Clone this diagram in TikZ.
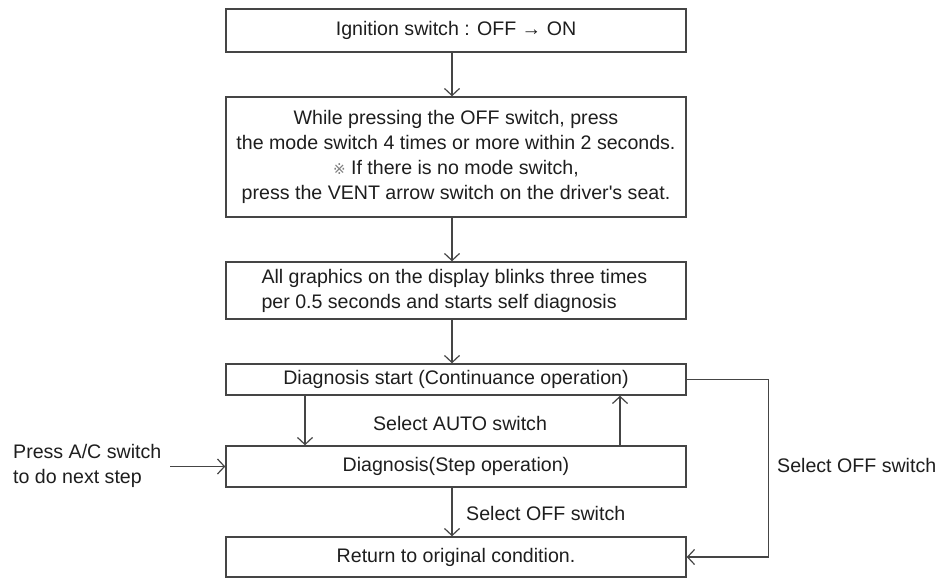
\documentclass[tikz,border=0pt]{standalone}
\usepackage{fontspec}
\newfontfamily\mainf{Liberation Sans}
\newfontfamily\symfont{DejaVu Sans}
\usetikzlibrary{arrows.meta}
\definecolor{linec}{HTML}{454545}
\definecolor{textc}{HTML}{1E1E1E}
\begin{document}
\begin{tikzpicture}[x=1pt,y=-1pt,
  font=\mainf\fontsize{19.6}{25}\selectfont,
  box/.style={draw=linec, line width=1.4pt, minimum width=460pt, inner sep=0pt, text=textc, align=center},
  arr/.style={draw=linec, line width=1.4pt, -{Straight Barb[length=7pt,width=15pt,line width=1.2pt]}},
  lbl/.style={text=textc, inner sep=0pt}]
\useasboundingbox[fill=white] (0,0) rectangle (941,578);

\node[box, minimum height=43pt] (b1) at (456,30.5) {Ignition switch : OFF → ON};
\node[box, minimum height=120pt] (b2) at (456,157) {While pressing the OFF switch, press\\
the mode switch 4 times or more within 2 seconds.\\
{\symfont\color{gray}\fontsize{15}{25}\selectfont ※}\ If there is no mode switch,\\
press the VENT arrow switch on the driver's seat.};
\node[box, minimum height=57pt] (b3) at (456,290.5) {};
\node[lbl, anchor=west, align=left] (t3) at ([xshift=36pt]b3.west) {All graphics on the display blinks three times\\per 0.5 seconds and starts self diagnosis};
\node[box, minimum height=31pt] (b4) at (456,379.5) {Diagnosis start (Continuance operation)};
\node[box, minimum height=41pt] (b5) at (456,466.5) {Diagnosis(Step operation)};
\node[box, minimum height=40pt] (b6) at (456,557) {Return to original condition.};

\draw[arr] ([xshift=-4pt]b1.south) -- ([xshift=-4pt]b2.north);
\draw[arr] ([xshift=-4pt]b2.south) -- ([xshift=-4pt]b3.north);
\draw[arr] ([xshift=-4pt]b3.south) -- ([xshift=-4pt]b4.north);
\draw[arr] ([xshift=-151pt]b4.south) -- ([xshift=-151pt]b5.north);
\draw[arr] ([xshift=164pt]b5.north) -- ([xshift=164pt]b4.south);
\draw[arr] ([xshift=-4pt]b5.south) -- ([xshift=-4pt]b6.north);

\node[lbl, anchor=west, align=left] (pa) at (13,465.5) {Press A/C switch\\to do next step};
\coordinate (pae) at (170,0);
\draw[arr] (pae |- b5.west) -- (b5.west);

\draw[arr] (b4.east) -- ++(82,0) |- (b6.east);
\node[lbl, anchor=west] (soff2) at (777,465) {Select OFF switch};
\node[lbl] (sauto) at (460,423) {Select AUTO switch};
\node[lbl, anchor=west] (soff1) at (466,513) {Select OFF switch};
\end{tikzpicture}
\end{document}
